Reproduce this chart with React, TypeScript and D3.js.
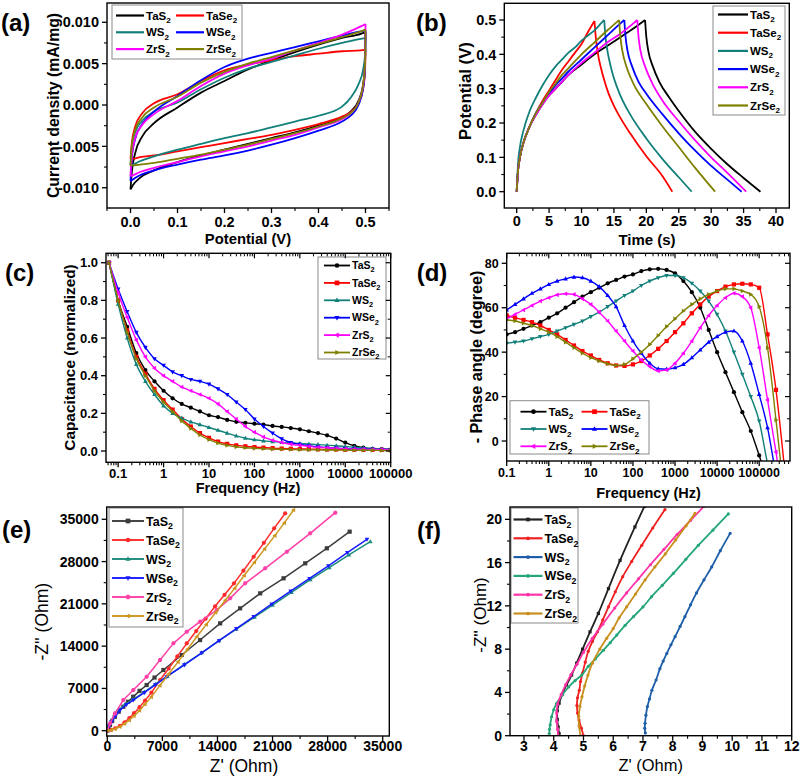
import React from 'react';
import * as d3 from 'd3';

type Pt = [number, number];

const FONT = "'Liberation Sans', Arial, Helvetica, sans-serif";
const NAMES = ['TaS2', 'TaSe2', 'WS2', 'WSe2', 'ZrS2', 'ZrSe2'];
const COLORS_ABCD = ['#000000', '#ff0000', '#12807a', '#0000ff', '#ff00ff', '#808000'];
const COLORS_E = ['#3c3c3c', '#ff2a2a', '#1b8c7c', '#1a1aff', '#ff40a8', '#cc961f'];
const COLORS_F = ['#222222', '#ee2020', '#1d5ea8', '#25a678', '#ff33a8', '#c98f1c'];

// ---------- (a) CV, current in 1e-3 mA/mg ----------
const cvUpperV = [0, 0.003, 0.01, 0.025, 0.05, 0.1, 0.15, 0.2, 0.25, 0.3, 0.35, 0.4, 0.45, 0.49, 0.5];
const cvUpTaS2 = [-10.2, -8.0, -5.8, -3.8, -2.2, -0.3, 1.5, 2.9, 4.3, 5.4, 6.4, 7.3, 8.1, 8.6, 8.8];
const cvUpTaSe2 = [-6.5, -4.5, -2.6, -1.0, 0.2, 1.3, 2.9, 4.2, 4.9, 5.4, 5.9, 6.2, 6.5, 6.6, 6.7];
const cvUpWS2 = [-7.3, -5.0, -3.3, -1.9, -0.8, 0.3, 1.9, 3.3, 4.4, 5.2, 6.0, 6.8, 7.5, 8.0, 8.1];
const cvUpWSe2 = [-9.2, -6.3, -4.1, -2.3, -0.8, 1.1, 3.0, 4.6, 5.6, 6.3, 7.0, 7.7, 8.4, 8.9, 9.0];
const cvUpZrS2 = [-8.6, -6.0, -4.0, -2.4, -1.1, 0.5, 2.3, 3.8, 4.8, 5.6, 6.6, 7.5, 8.5, 9.5, 9.8];
const cvUpZrSe2 = [-7.3, -4.8, -3.0, -1.5, -0.3, 1.0, 2.7, 4.0, 5.0, 5.8, 6.6, 7.4, 8.2, 8.9, 9.1];
const cvLowerV = [0, 0.005, 0.02, 0.05, 0.1, 0.15, 0.2, 0.25, 0.3, 0.35, 0.4, 0.45, 0.47, 0.485, 0.495, 0.499, 0.5];
const cvLoTaS2 = [-10.2, -9.7, -8.8, -7.9, -6.9, -6.1, -5.4, -4.7, -4.0, -3.3, -2.5, -1.5, -0.7, 0.5, 2.5, 5.0, 8.8];
const cvLoTaSe2 = [-6.5, -6.5, -6.3, -6.1, -5.6, -5.1, -4.6, -4.1, -3.6, -3.0, -2.3, -1.4, -0.8, 0.2, 2.0, 4.0, 6.7];
const cvLoWS2 = [-7.3, -7.2, -6.8, -6.2, -5.4, -4.7, -4.0, -3.4, -2.7, -2.0, -1.3, -0.2, 1.0, 2.5, 4.3, 6.0, 8.1];
const cvLoWSe2 = [-9.2, -9.0, -8.5, -7.9, -7.2, -6.6, -6.1, -5.5, -4.8, -4.0, -3.1, -2.0, -1.2, 0.0, 2.0, 4.5, 9.0];
const cvLoZrS2 = [-8.6, -8.5, -8.1, -7.6, -6.9, -6.2, -5.6, -5.0, -4.3, -3.6, -2.7, -1.7, -0.9, 0.3, 2.4, 5.0, 9.8];
const cvLoZrSe2 = [-7.3, -7.3, -7.2, -7.0, -6.5, -6.0, -5.4, -4.8, -4.1, -3.4, -2.6, -1.6, -0.9, 0.3, 2.5, 5.0, 9.1];

// ---------- (b) GCD [time s, potential V] ----------
const gcdChTaS2: Pt[] = [[0, 0], [0.2, 0.06], [0.5, 0.1], [1, 0.14], [2, 0.19], [3, 0.225], [4, 0.255], [5, 0.28], [6, 0.3], [7, 0.32], [8, 0.34], [10, 0.37], [12, 0.4], [14, 0.425], [16, 0.45], [18, 0.475], [19.8, 0.5]];
const gcdDisTaS2: Pt[] = [[19.8, 0.5], [20.0, 0.45], [20.3, 0.41], [21, 0.365], [22, 0.32], [23.5, 0.275], [25, 0.235], [27.5, 0.175], [30, 0.125], [32.5, 0.08], [35, 0.04], [37.6, 0]];
const gcdChTaSe2: Pt[] = [[0, 0], [0.2, 0.06], [0.5, 0.1], [1, 0.14], [2, 0.19], [3, 0.23], [4, 0.265], [5, 0.295], [6, 0.325], [7, 0.355], [8, 0.38], [9, 0.405], [10, 0.43], [11, 0.465], [12, 0.497]];
const gcdDisTaSe2: Pt[] = [[12, 0.497], [12.2, 0.45], [12.5, 0.405], [13, 0.36], [13.5, 0.325], [14, 0.295], [15, 0.25], [16, 0.215], [17.5, 0.17], [20, 0.103], [22.5, 0.045], [24, 0]];
const gcdChWS2: Pt[] = [[0, 0], [0.2, 0.08], [0.5, 0.13], [1, 0.175], [2, 0.235], [3, 0.275], [4, 0.31], [5, 0.34], [6, 0.365], [7, 0.385], [8, 0.405], [9, 0.42], [10, 0.44], [11, 0.455], [12, 0.47], [13, 0.49], [13.5, 0.5]];
const gcdDisWS2: Pt[] = [[13.5, 0.5], [13.7, 0.45], [14, 0.41], [14.5, 0.365], [15, 0.33], [16, 0.28], [17.5, 0.225], [20, 0.155], [22.5, 0.095], [25, 0.042], [27, 0]];
const gcdChWSe2: Pt[] = [[0, 0], [0.2, 0.06], [0.5, 0.1], [1, 0.14], [2, 0.19], [3, 0.23], [4, 0.26], [5, 0.285], [6, 0.31], [7, 0.33], [8, 0.35], [10, 0.385], [12, 0.42], [14, 0.455], [16, 0.49], [16.6, 0.5]];
const gcdDisWSe2: Pt[] = [[16.6, 0.5], [16.8, 0.45], [17.1, 0.41], [17.8, 0.365], [18.8, 0.32], [20, 0.285], [22.5, 0.225], [25, 0.17], [27.5, 0.12], [30, 0.075], [32.5, 0.035], [34.7, 0]];
const gcdChZrS2: Pt[] = [[0, 0], [0.2, 0.06], [0.5, 0.1], [1, 0.14], [2, 0.19], [3, 0.225], [4, 0.255], [5, 0.28], [6, 0.3], [7, 0.32], [8, 0.34], [10, 0.375], [12, 0.405], [14, 0.435], [16, 0.46], [18, 0.49], [18.6, 0.5]];
const gcdDisZrS2: Pt[] = [[18.6, 0.5], [18.8, 0.45], [19.1, 0.41], [19.8, 0.365], [20.8, 0.32], [22.5, 0.265], [25, 0.205], [27.5, 0.15], [30, 0.1], [32.5, 0.055], [35.4, 0]];
const gcdChZrSe2: Pt[] = [[0, 0], [0.2, 0.06], [0.5, 0.1], [1, 0.14], [2, 0.19], [3, 0.23], [4, 0.26], [5, 0.29], [6, 0.315], [7, 0.34], [8, 0.36], [10, 0.4], [12, 0.435], [14, 0.47], [15.8, 0.5]];
const gcdDisZrSe2: Pt[] = [[15.8, 0.5], [16.0, 0.45], [16.3, 0.41], [17, 0.36], [18, 0.315], [20, 0.255], [22.5, 0.19], [25, 0.13], [27.5, 0.07], [30.6, 0]];

// ---------- (c) normalized capacitance vs frequency ----------
const cFreq = [0.063, 0.1, 0.158, 0.251, 0.398, 0.631, 1, 1.58, 2.51, 3.98, 6.31, 10, 15.8, 25.1, 39.8, 63.1, 100, 158, 251, 398, 631, 1000, 1580, 2510, 3980, 6310, 10000, 15800, 25100, 39800, 63100, 100000];
const cTaS2 = [1.0, 0.8, 0.66, 0.52, 0.43, 0.37, 0.32, 0.28, 0.25, 0.23, 0.21, 0.19, 0.18, 0.165, 0.155, 0.15, 0.145, 0.14, 0.133, 0.128, 0.122, 0.115, 0.105, 0.095, 0.083, 0.066, 0.045, 0.028, 0.018, 0.012, 0.01, 0.008];
const cTaSe2 = [1.0, 0.8, 0.64, 0.5, 0.41, 0.33, 0.27, 0.22, 0.17, 0.13, 0.095, 0.07, 0.05, 0.038, 0.03, 0.025, 0.021, 0.018, 0.015, 0.013, 0.012, 0.011, 0.01, 0.009, 0.008, 0.008, 0.007, 0.007, 0.006, 0.006, 0.006, 0.005];
const cWS2 = [1.0, 0.78, 0.6, 0.46, 0.37, 0.3, 0.24, 0.2, 0.175, 0.155, 0.14, 0.125, 0.11, 0.095, 0.08, 0.068, 0.06, 0.054, 0.05, 0.046, 0.043, 0.04, 0.037, 0.034, 0.031, 0.028, 0.024, 0.02, 0.016, 0.013, 0.011, 0.01];
const cWSe2 = [1.0, 0.86, 0.74, 0.63, 0.55, 0.49, 0.455, 0.42, 0.4, 0.38, 0.37, 0.355, 0.33, 0.3, 0.26, 0.22, 0.17, 0.13, 0.095, 0.065, 0.045, 0.035, 0.028, 0.022, 0.018, 0.015, 0.013, 0.011, 0.01, 0.009, 0.008, 0.008];
const cZrS2 = [1.0, 0.84, 0.71, 0.59, 0.5, 0.44, 0.4, 0.37, 0.34, 0.32, 0.3, 0.28, 0.25, 0.21, 0.17, 0.13, 0.1, 0.075, 0.057, 0.045, 0.036, 0.03, 0.025, 0.02, 0.017, 0.014, 0.012, 0.01, 0.009, 0.008, 0.008, 0.007];
const cZrSe2 = [1.0, 0.8, 0.63, 0.49, 0.4, 0.32, 0.26, 0.21, 0.16, 0.12, 0.085, 0.06, 0.042, 0.03, 0.022, 0.017, 0.014, 0.012, 0.01, 0.009, 0.008, 0.007, 0.006, 0.006, 0.005, 0.005, 0.004, 0.004, 0.004, 0.004, 0.003, 0.003];

// ---------- (d) phase angle vs frequency ----------
const dFreq = [0.1, 0.158, 0.251, 0.398, 0.631, 1, 1.58, 2.51, 3.98, 6.31, 10, 15.8, 25.1, 39.8, 63.1, 100, 158, 251, 398, 631, 1000, 1580, 2510, 3980, 6310, 10000, 15800, 25100, 39800, 63100, 100000, 158000, 251000, 398000];
const dTaS2 = [48, 49, 50.5, 52, 53.5, 55.5, 57.5, 60, 62.5, 65, 67, 69, 71, 72.5, 74, 75, 76.5, 77.3, 77.5, 77, 75.5, 72, 67, 60, 50, 40, 31, 22, 13, 4.5, -6.5, -18, -30, -40];
const dTaSe2 = [56.5, 55.5, 54.5, 53.5, 52, 50, 48, 45.5, 43, 40.5, 38.5, 36.5, 35, 34, 33.8, 34.5, 36, 38.5, 41.5, 45, 49, 53, 57.5, 61.5, 65, 67.5, 69.5, 70.5, 70.8, 70.5, 69, 48, 23, -12];
const dWS2 = [44, 44.5, 45, 46, 47, 48, 49.5, 51, 52.5, 54, 56, 58, 60.5, 63, 65.5, 67.5, 70, 72, 73.5, 74.5, 74.5, 73.5, 71, 67.5, 63, 57, 49.5, 40, 30, 20, 9, -10, -25, -35];
const dWSe2 = [59, 61.5, 64, 66.5, 68.5, 70.5, 72, 73, 73.8, 73.5, 72, 69.5, 65.5, 60.5, 52, 45, 39.5, 35, 32.5, 32.3, 33, 34.5, 37.5, 41, 44.5, 47, 49, 49.5, 45, 35, 21, 6, -15, -30];
const dZrS2 = [55, 57, 59, 61, 63, 64.5, 65.8, 66.3, 66, 64, 61.5, 58, 54, 49.5, 45, 40.5, 36.5, 33.5, 31.5, 32, 35, 39.5, 45, 51, 56.5, 61, 64.5, 66.5, 65, 60, 42, 18.5, -5, -30];
const dZrSe2 = [54.5, 54, 53, 52, 50.5, 49, 47, 44.5, 42, 39.5, 37.5, 36, 34.8, 34, 34.5, 37, 40, 43.5, 47.5, 51.5, 55, 58.5, 61.5, 64, 66, 67.5, 68.5, 68.5, 67.5, 66, 60.5, 42, 9.5, -25];

// ---------- (e) Nyquist [Z', -Z''] Ohm ----------
const eTaS2: Pt[] = [[0, 0], [150, 450], [340, 940], [620, 1600], [975, 2320], [1450, 3150], [2040, 3970], [2650, 4800], [3300, 5630], [4100, 6600], [5000, 7560], [6000, 8800], [7130, 10050], [9460, 12530], [11790, 15010], [14340, 17770], [16880, 20260], [19430, 22740], [22400, 25230], [25150, 27710], [27900, 30200], [30800, 32950]];
const eTaSe2: Pt[] = [[0, 0], [500, 150], [1000, 400], [1600, 800], [2200, 1400], [2800, 2100], [3400, 2900], [4100, 3900], [4800, 5000], [5600, 6300], [6700, 8390], [7800, 10300], [8900, 12300], [10100, 14460], [11300, 16500], [12500, 18550], [13700, 20600], [14900, 22500], [16100, 24400], [17300, 26500], [18600, 28800], [19900, 31100], [21200, 33500], [22610, 35990]];
const eWS2: Pt[] = [[0, 0], [200, 900], [500, 1700], [900, 2600], [1500, 3500], [2300, 4400], [3300, 5200], [4700, 6400], [6100, 7700], [7600, 9000], [9800, 11000], [12000, 12900], [14200, 14900], [16400, 16800], [18700, 18800], [21000, 20800], [23400, 22900], [25800, 25000], [28200, 27000], [30700, 29100], [33430, 31300]];
const eWSe2: Pt[] = [[0, 0], [250, 800], [550, 1500], [1000, 2400], [1600, 3400], [2400, 4300], [3300, 5080], [4700, 6300], [6100, 7600], [7550, 8940], [9800, 10900], [12000, 12900], [14200, 14900], [16400, 16900], [18600, 18900], [20900, 20980], [23300, 23100], [25700, 25200], [28100, 27300], [30500, 29500], [33000, 31680]];
const eZrS2: Pt[] = [[0, 0], [340, 1210], [980, 2870], [2040, 5080], [3300, 6730], [5000, 8940], [6700, 11700], [8400, 14460], [10100, 16390], [11790, 18050], [13910, 19980], [15610, 21910], [17520, 24400], [20060, 26880], [22820, 29640], [25790, 32680], [28970, 36100]];
const eZrSe2: Pt[] = [[0, 0], [500, 100], [1000, 300], [1600, 650], [2200, 1150], [2800, 1750], [3400, 2450], [4100, 3350], [4800, 4400], [5600, 5600], [6700, 7500], [7800, 9400], [9000, 11400], [10200, 13500], [11400, 15600], [12600, 17600], [13800, 19600], [15000, 21600], [16200, 23600], [17400, 25700], [18700, 27900], [20000, 30100], [21300, 32300], [22500, 34400], [23670, 36540]];

// ---------- (f) Nyquist high-frequency zoom [Z', -Z''] Ohm ----------
const fTaS2: Pt[] = [[4.18, 0.2], [4.15, 0.8], [4.12, 1.5], [4.12, 2.3], [4.18, 3.0], [4.28, 3.8], [4.43, 4.7], [4.6, 5.6], [4.77, 6.7], [4.97, 8.0], [5.22, 9.6], [5.5, 11.3], [5.84, 13.6], [6.23, 16.2], [6.73, 19.3], [7.05, 21.2]];
const fTaSe2: Pt[] = [[5.0, 0], [4.93, 0.7], [4.85, 1.45], [4.8, 2.1], [4.78, 2.8], [4.8, 3.5], [4.86, 4.2], [4.9, 5.0], [4.97, 5.8], [5.06, 6.8], [5.16, 7.8], [5.3, 8.7], [5.47, 9.6], [5.65, 10.7], [5.84, 11.9], [6.07, 13.3], [6.32, 14.7], [6.62, 16.1], [6.96, 17.6], [7.33, 19.2], [7.74, 20.9]];
const fWS2: Pt[] = [[7.08, 0.25], [7.06, 0.7], [7.07, 1.15], [7.1, 1.9], [7.15, 2.7], [7.22, 3.4], [7.3, 4.2], [7.44, 5.15], [7.57, 6.2], [7.68, 6.9], [7.8, 7.6], [7.94, 8.4], [8.08, 9.15], [8.25, 10.1], [8.41, 11.0], [8.6, 12.1], [8.8, 13.2], [9.05, 14.4], [9.31, 15.6], [9.6, 17.1], [9.93, 18.7]];
const fWSe2: Pt[] = [[3.85, 0.2], [3.86, 0.6], [3.88, 1.0], [3.93, 1.75], [4.0, 2.4], [4.1, 3.0], [4.3, 3.8], [4.5, 4.5], [4.72, 5.1], [4.94, 5.6], [5.16, 6.4], [5.4, 7.1], [5.67, 7.9], [5.9, 8.6], [6.12, 9.3], [6.4, 10.2], [6.68, 11.0], [7.0, 11.9], [7.29, 12.85], [7.65, 13.9], [8.02, 15.0], [8.44, 16.3], [8.86, 17.6], [9.35, 19.0], [9.87, 20.5]];
const fZrS2: Pt[] = [[4.15, 0], [4.13, 0.6], [4.1, 1.3], [4.1, 2.1], [4.13, 2.9], [4.25, 3.8], [4.4, 4.7], [4.57, 5.6], [4.78, 6.6], [5.0, 7.7], [5.3, 9.0], [5.65, 10.3], [6.05, 11.8], [6.45, 13.2], [6.85, 14.5], [7.25, 15.8], [7.7, 17.2], [8.15, 18.6], [8.6, 19.9], [9.05, 21.2]];
const fZrSe2: Pt[] = [[4.9, 0], [4.85, 0.9], [4.84, 1.8], [4.88, 2.7], [4.95, 3.6], [5.04, 4.6], [5.15, 5.6], [5.3, 6.7], [5.55, 8.0], [5.78, 9.0], [6.0, 9.9], [6.2, 10.9], [6.45, 11.9], [6.75, 13.1], [7.07, 14.4], [7.4, 15.6], [7.75, 16.8], [8.1, 18.1], [8.45, 19.4], [8.75, 20.55]];

// ---------- ticks ----------
const aXTicks = [0, 0.1, 0.2, 0.3, 0.4, 0.5];
const aYTicks = [-10, -5, 0, 5, 10];
const bXTicks = [0, 5, 10, 15, 20, 25, 30, 35, 40];
const bYTicks = [0, 0.1, 0.2, 0.3, 0.4, 0.5];
const cXTicks = [0.1, 1, 10, 100, 1000, 10000, 100000];
const cYTicks = [0, 0.2, 0.4, 0.6, 0.8, 1.0];
const dXTicks = [0.1, 1, 10, 100, 1000, 10000, 100000];
const dYTicks = [0, 20, 40, 60, 80];
const eTicks = [0, 7000, 14000, 21000, 28000, 35000];
const fXTicks = [3, 4, 5, 6, 7, 8, 9, 10, 11, 12];
const fYTicks = [0, 4, 8, 12, 16, 20];

const zip = (xs: number[], ys: number[]): Pt[] => xs.map((x, i) => [x, ys[i]] as Pt);
const logMinor = (lo: number, hi: number) => {
  const out: number[] = [];
  for (let e = -2; e <= 6; e++) for (let m = 2; m <= 9; m++) { const v = m * Math.pow(10, e); if (v >= lo && v <= hi) out.push(v); }
  return out;
};

function chem(name: string, fs: number) {
  return (<>{name.slice(0, -1)}<tspan fontSize={fs * 0.7} dy={fs * 0.3}>2</tspan></>);
}

function Marker({ t, x, y, s, c }: any) {
  const h = s / 2;
  switch (t) {
    case 'circle': return <circle cx={x} cy={y} r={h} fill={c} />;
    case 'square': return <rect x={x - h} y={y - h} width={s} height={s} fill={c} />;
    case 'up': return <polygon points={`${x},${y - h * 1.2} ${x - h * 1.1},${y + h * 0.75} ${x + h * 1.1},${y + h * 0.75}`} fill={c} />;
    case 'down': return <polygon points={`${x},${y + h * 1.2} ${x - h * 1.1},${y - h * 0.75} ${x + h * 1.1},${y - h * 0.75}`} fill={c} />;
    case 'left': return <polygon points={`${x - h * 1.2},${y} ${x + h * 0.75},${y - h * 1.1} ${x + h * 0.75},${y + h * 1.1}`} fill={c} />;
    case 'right': return <polygon points={`${x + h * 1.2},${y} ${x - h * 0.75},${y - h * 1.1} ${x - h * 0.75},${y + h * 1.1}`} fill={c} />;
    case 'hex': {
      const p = d3.range(6).map(i => { const a = Math.PI / 3 * i; return `${x + h * 1.1 * Math.cos(a)},${y + h * 1.1 * Math.sin(a)}`; }).join(' ');
      return <polygon points={p} fill={c} />;
    }
    default: return null;
  }
}

function Panel(p: any) {
  const [x0, y0, x1, y1] = p.box;
  const xs: any = p.xLog ? d3.scaleLog().domain(p.xDom).range([x0, x1]) : d3.scaleLinear().domain(p.xDom).range([x0, x1]);
  const ys = d3.scaleLinear().domain(p.yDom).range([y1, y0]);
  const line = d3.line<Pt>().x(d => xs(d[0])).y(d => ys(d[1])).curve(p.curve || d3.curveLinear);
  const clipId = 'clip-' + p.id;
  const inX = (v: number) => v >= p.xDom[0] - 1e-9 && v <= p.xDom[1] + 1e-9;
  const inY = (v: number) => v >= p.yDom[0] - 1e-9 && v <= p.yDom[1] + 1e-9;
  const L = p.legend;
  const tf = p.tickFont;
  return (
    <g>
      <defs><clipPath id={clipId}><rect x={x0} y={y0} width={x1 - x0} height={y1 - y0} /></clipPath></defs>
      <g clipPath={`url(#${clipId})`}>
        {p.series.map((s: any, i: number) => (
          <g key={i}>
            {(s.segs || [s.pts]).map((seg: Pt[], j: number) => (
              <path key={j} d={line(seg) || ''} fill="none" stroke={s.color} strokeWidth={s.lw || 1.6} strokeLinejoin="round" />
            ))}
            {s.marker && s.pts.map((d: Pt, k: number) => (
              <Marker key={k} t={s.marker} x={xs(d[0])} y={ys(d[1])} s={s.ms || 4} c={s.color} />
            ))}
          </g>
        ))}
      </g>
      {/* legend */}
      <rect x={L.x} y={L.y} width={L.w} height={L.h} fill="#fff" stroke="#8a8a8a" strokeWidth={1} />
      {p.series.map((s: any, i: number) => {
        const col = i % L.cols, row = Math.floor(i / L.cols);
        const lx = L.col0 + col * (L.colW || 0), ly = L.row0 + row * L.rowH;
        return (
          <g key={'lg' + i}>
            <line x1={lx} x2={lx + L.lineLen} y1={ly} y2={ly} stroke={s.color} strokeWidth={(s.lw || 1.6) + 0.4} />
            {s.marker && <Marker t={s.marker} x={lx + L.lineLen / 2} y={ly} s={(s.ms || 4) + 0.5} c={s.color} />}
            <text x={lx + L.lineLen + 2} y={ly + L.font * 0.36} fontSize={L.font} fontWeight="bold" fill="#000">{chem(s.name, L.font)}</text>
          </g>
        );
      })}
      {/* frame */}
      <rect x={x0} y={y0} width={x1 - x0} height={y1 - y0} fill="none" stroke="#000" strokeWidth={1.4} />
      {/* x ticks */}
      {p.xTicks.filter(inX).map((v: number, i: number) => (
        <g key={'xt' + i}>
          <line x1={xs(v)} x2={xs(v)} y1={y1} y2={y1 + 5} stroke="#000" strokeWidth={1.3} />
          {p.mirror && <line x1={xs(v)} x2={xs(v)} y1={y0} y2={y0 + 5} stroke="#000" strokeWidth={1.2} />}
          <text x={xs(v)} y={p.xLabY + tf * 0.36} textAnchor="middle" fontSize={tf} fontWeight="bold">{p.xFmt(v)}</text>
        </g>
      ))}
      {p.xTicks.filter((v: number) => !inX(v) && v <= p.xDom[1] * 1.1).map((v: number, i: number) => (
        <text key={'xo' + i} x={xs(v)} y={p.xLabY + tf * 0.36} textAnchor="middle" fontSize={tf} fontWeight="bold">{p.xFmt(v)}</text>
      ))}
      {p.xMinor.filter(inX).map((v: number, i: number) => (
        <g key={'xm' + i}>
          <line x1={xs(v)} x2={xs(v)} y1={y1} y2={y1 + 3} stroke="#000" strokeWidth={1.1} />
          {p.mirror && <line x1={xs(v)} x2={xs(v)} y1={y0} y2={y0 + 3} stroke="#000" strokeWidth={1} />}
        </g>
      ))}
      {/* y ticks */}
      {p.yTicks.filter(inY).map((v: number, i: number) => (
        <g key={'yt' + i}>
          <line x1={x0 - 5} x2={x0} y1={ys(v)} y2={ys(v)} stroke="#000" strokeWidth={1.3} />
          {p.mirror && <line x1={x1 - 5} x2={x1} y1={ys(v)} y2={ys(v)} stroke="#000" strokeWidth={1.2} />}
          <text x={x0 - 8} y={ys(v) + tf * 0.36} textAnchor="end" fontSize={tf} fontWeight="bold">{p.yFmt(v)}</text>
        </g>
      ))}
      {p.yMinor.filter(inY).map((v: number, i: number) => (
        <g key={'ym' + i}>
          <line x1={x0 - 3} x2={x0} y1={ys(v)} y2={ys(v)} stroke="#000" strokeWidth={1.1} />
          {p.mirror && <line x1={x1 - 3} x2={x1} y1={ys(v)} y2={ys(v)} stroke="#000" strokeWidth={1} />}
        </g>
      ))}
      {/* titles */}
      <text x={p.xTitle[1]} y={p.xTitle[2]} textAnchor="middle" fontSize={p.xTitle[3]} fontWeight={p.titleWeight}>{p.xTitle[0]}</text>
      <text transform={`translate(${p.yTitle[1]},${p.yTitle[2]}) rotate(-90)`} textAnchor="middle" dy="0.35em" fontSize={p.yTitle[3]} fontWeight={p.titleWeight}>{p.yTitle[0]}</text>
      <text x={p.label[1]} y={p.label[2]} fontSize={24} fontWeight="bold">{p.label[0]}</text>
    </g>
  );
}

export default function App() {
  const cvUp = [cvUpTaS2, cvUpTaSe2, cvUpWS2, cvUpWSe2, cvUpZrS2, cvUpZrSe2];
  const cvLo = [cvLoTaS2, cvLoTaSe2, cvLoWS2, cvLoWSe2, cvLoZrS2, cvLoZrSe2];
  const aSeries = NAMES.map((n, i) => ({ name: n, color: COLORS_ABCD[i], lw: 1.8, segs: [zip(cvUpperV, cvUp[i]), zip(cvLowerV, cvLo[i])] }));

  const gch = [gcdChTaS2, gcdChTaSe2, gcdChWS2, gcdChWSe2, gcdChZrS2, gcdChZrSe2];
  const gdis = [gcdDisTaS2, gcdDisTaSe2, gcdDisWS2, gcdDisWSe2, gcdDisZrS2, gcdDisZrSe2];
  const bSeries = NAMES.map((n, i) => ({ name: n, color: COLORS_ABCD[i], lw: 1.8, segs: [gch[i], gdis[i]] }));

  const cVals = [cTaS2, cTaSe2, cWS2, cWSe2, cZrS2, cZrSe2];
  const cMarks = ['circle', 'square', 'up', 'down', 'left', 'right'];
  const cSeries = NAMES.map((n, i) => ({ name: n, color: COLORS_ABCD[i], lw: 1.4, ms: 4.2, marker: cMarks[i], pts: zip(cFreq, cVals[i]) }));

  const dVals = [dTaS2, dTaSe2, dWS2, dWSe2, dZrS2, dZrSe2];
  const dMarks = ['circle', 'square', 'down', 'up', 'left', 'right'];
  const dSeries = NAMES.map((n, i) => ({ name: n, color: COLORS_ABCD[i], lw: 1.4, ms: 4.2, marker: dMarks[i], pts: zip(dFreq, dVals[i]) }));

  const eVals = [eTaS2, eTaSe2, eWS2, eWSe2, eZrS2, eZrSe2];
  const eMarks = ['square', 'circle', 'up', 'down', 'hex', 'left'];
  const eSeries = NAMES.map((n, i) => ({ name: n, color: COLORS_E[i], lw: 1.5, ms: 4.2, marker: eMarks[i], pts: eVals[i] }));

  const fVals = [fTaS2, fTaSe2, fWS2, fWSe2, fZrS2, fZrSe2];
  const fMarks = ['square', 'circle', 'circle', 'circle', 'circle', 'circle'];
  const fSeries = NAMES.map((n, i) => ({ name: n, color: COLORS_F[i], lw: 1.8, ms: 3.2, marker: fMarks[i], pts: fVals[i] }));

  return (
    <svg width={800} height={781} style={{ position: 'absolute', left: 0, top: 0 }} fontFamily={FONT}>
      <rect width={800} height={781} fill="#fff" />
      <Panel id="a" box={[107, 3, 389, 208]} xDom={[-0.05, 0.55]} yDom={[-12.45, 12.33]}
        xTicks={aXTicks} xMinor={[-0.05, 0.05, 0.15, 0.25, 0.35, 0.45, 0.55]} xFmt={(v: number) => v.toFixed(1)}
        yTicks={aYTicks} yMinor={[-7.5, -2.5, 2.5, 7.5]} yFmt={(v: number) => (v / 1000).toFixed(3)}
        tickFont={14.5} xLabY={221.7} series={aSeries} curve={d3.curveMonotoneX}
        legend={{ x: 112, y: 5, w: 130, h: 54, cols: 2, row0: 15.5, rowH: 16.8, col0: 116, colW: 60, lineLen: 28, font: 11.5 }}
        xTitle={['Potential (V)', 248, 244, 14.8]} yTitle={['Current density (mA/mg)', 53, 105.5, 15.8]}
        titleWeight="bold" label={['(a)', 1, 31]} />
      <Panel id="b" box={[504.3, 3.3, 789.3, 208]} xDom={[-1.91, 42.05]} yDom={[-0.0475, 0.5486]}
        xTicks={bXTicks} xMinor={[2.5, 7.5, 12.5, 17.5, 22.5, 27.5, 32.5, 37.5]} xFmt={(v: number) => String(v)}
        yTicks={bYTicks} yMinor={[0.05, 0.15, 0.25, 0.35, 0.45]} yFmt={(v: number) => v.toFixed(1)}
        tickFont={14.5} xLabY={220.8} series={bSeries} curve={d3.curveMonotoneX}
        legend={{ x: 713, y: 6, w: 72, h: 109, cols: 1, row0: 14.5, rowH: 18.2, col0: 718, lineLen: 30, font: 11.5 }}
        xTitle={['Time (s)', 647, 245, 15]} yTitle={['Potential (V)', 465, 91, 16.8]}
        titleWeight="bold" label={['(b)', 416, 31]} />
      <Panel id="c" box={[106, 253.3, 390.7, 462.3]} xLog xDom={[0.054, 100000]} yDom={[-0.06, 1.05]}
        xTicks={cXTicks} xMinor={logMinor(0.054, 100000)} xFmt={(v: number) => String(v)}
        yTicks={cYTicks} yMinor={[0.1, 0.3, 0.5, 0.7, 0.9]} yFmt={(v: number) => v.toFixed(1)}
        tickFont={13} xLabY={473} series={cSeries} curve={d3.curveMonotoneX} mirror
        legend={{ x: 318, y: 257, w: 68, h: 102, cols: 1, row0: 265.5, rowH: 17.4, col0: 324, lineLen: 26, font: 10.5 }}
        xTitle={['Frequency (Hz)', 248, 492.5, 14.5]} yTitle={['Capacitance (normalized)', 70, 357.5, 15.4]}
        titleWeight="bold" label={['(c)', 5, 281]} />
      <Panel id="d" box={[506.7, 253.3, 790, 461]} xLog xDom={[0.1, 540000]} yDom={[-9, 84.5]}
        xTicks={dXTicks} xMinor={logMinor(0.1, 540000)} xFmt={(v: number) => String(v)}
        yTicks={dYTicks} yMinor={[10, 30, 50, 70]} yFmt={(v: number) => String(v)}
        tickFont={12.5} xLabY={472.5} series={dSeries} curve={d3.curveMonotoneX} mirror
        legend={{ x: 510, y: 400.7, w: 139, h: 53.3, cols: 2, row0: 411.7, rowH: 17.3, col0: 520.5, colW: 61, lineLen: 26, font: 11.5 }}
        xTitle={['Frequency (Hz)', 648.5, 498, 14.5]} yTitle={['- Phase angle (degree)', 476, 357, 16.2]}
        titleWeight="bold" label={['(d)', 416.7, 281]} />
      <Panel id="e" box={[106.7, 507, 389.3, 736]} xDom={[-76, 35838]} yDom={[-877, 37036]}
        xTicks={eTicks} xMinor={[3500, 10500, 17500, 24500, 31500]} xFmt={(v: number) => String(v)}
        yTicks={eTicks} yMinor={[3500, 10500, 17500, 24500, 31500]} yFmt={(v: number) => String(v)}
        tickFont={14} xLabY={746} series={eSeries} curve={d3.curveLinear}
        legend={{ x: 109, y: 508, w: 74, h: 119, cols: 1, row0: 521, rowH: 19, col0: 112, lineLen: 32, font: 12.5 }}
        xTitle={["Z' (Ohm)", 244, 772, 17.5]} yTitle={["-Z'' (Ohm)", 42.3, 621.7, 17.5]}
        titleWeight="normal" label={['(e)', 2, 538]} />
      <Panel id="f" box={[510, 507, 791.7, 735.7]} xDom={[2.53, 12.0]} yDom={[0, 21.14]}
        xTicks={fXTicks} xMinor={[3.5, 4.5, 5.5, 6.5, 7.5, 8.5, 9.5, 10.5, 11.5]} xFmt={(v: number) => String(v)}
        yTicks={fYTicks} yMinor={[2, 6, 10, 14, 18]} yFmt={(v: number) => String(v)}
        tickFont={14} xLabY={745.5} series={fSeries} curve={d3.curveCatmullRom.alpha(0.5)}
        legend={{ x: 511, y: 508, w: 67, h: 115, cols: 1, row0: 519.5, rowH: 18.8, col0: 513.5, lineLen: 29, font: 12.5 }}
        xTitle={["Z' (Ohm)", 650.7, 771, 16.5]} yTitle={["-Z'' (Ohm)", 480, 615, 17]}
        titleWeight="normal" label={['(f)', 417, 539]} />
    </svg>
  );
}
